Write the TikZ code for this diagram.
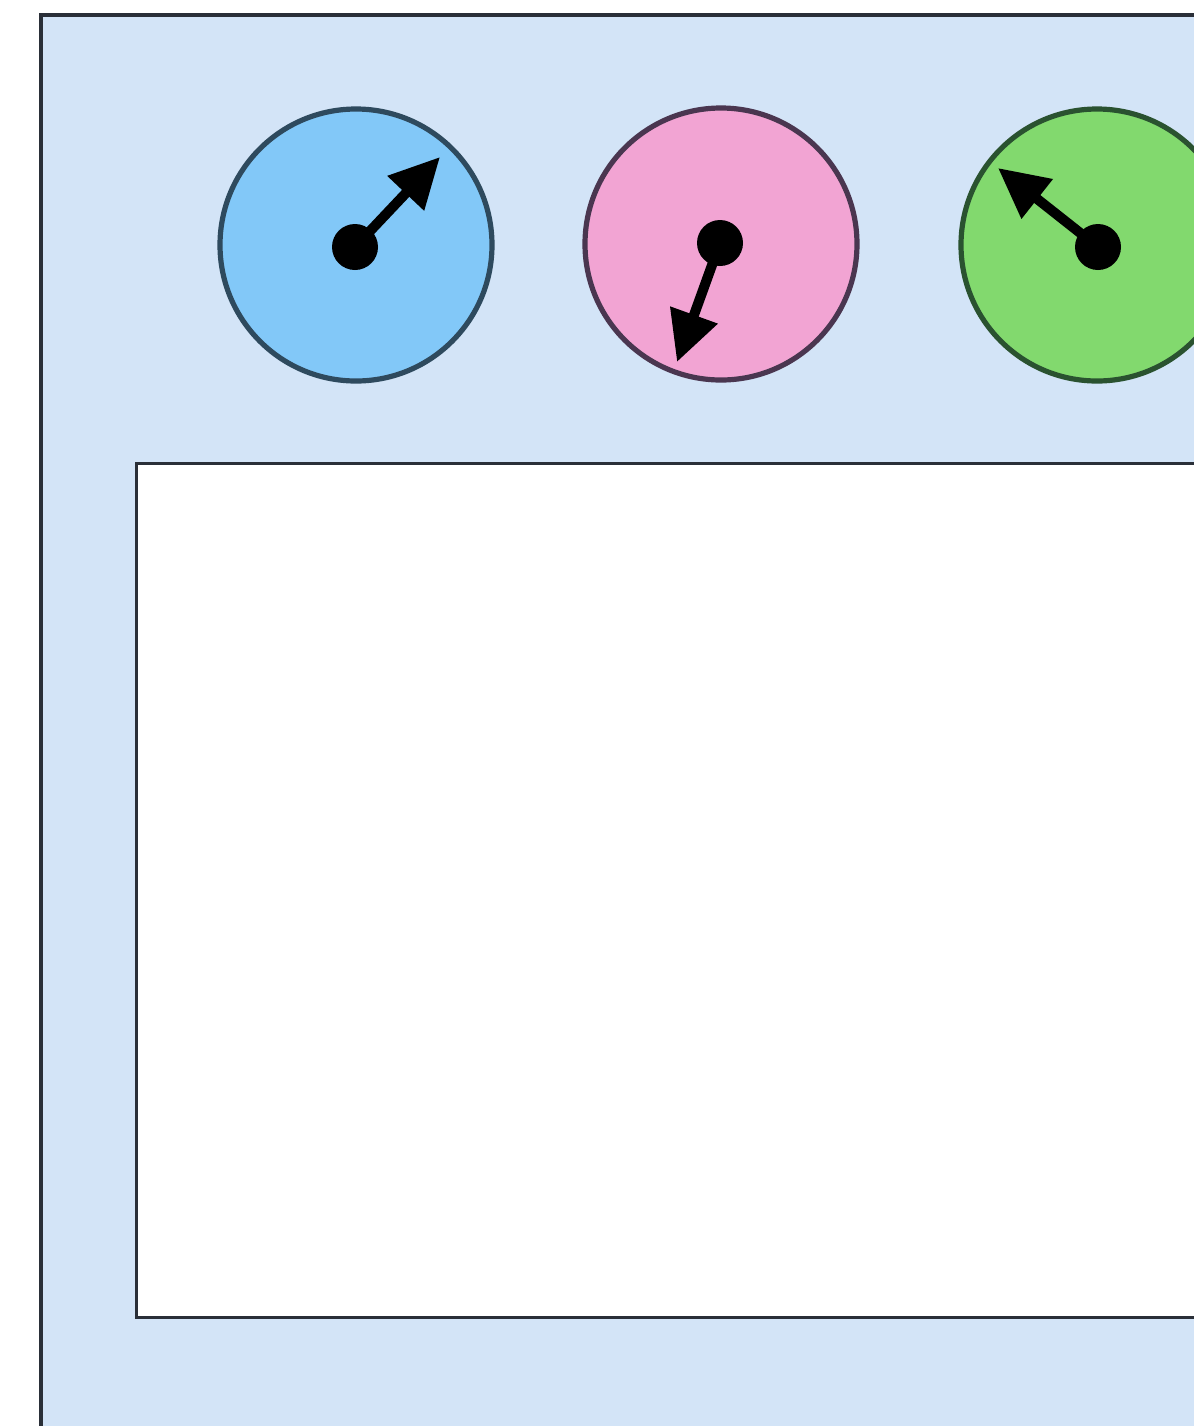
\documentclass[tikz,border=0pt]{standalone}
\usetikzlibrary{arrows.meta}
\definecolor{panelbg}{HTML}{D3E4F7}
\definecolor{dialblue}{HTML}{82C8F8}
\definecolor{dialpink}{HTML}{F2A4D3}
\definecolor{dialgreen}{HTML}{82D96E}
\definecolor{edgeblue}{HTML}{2E4A5E}
\definecolor{edgepink}{HTML}{4A3650}
\definecolor{edgegreen}{HTML}{2A5230}
\definecolor{frame}{HTML}{2A2F38}
\tikzset{
  dial/.style={circle, minimum size=136pt, inner sep=0pt, line width=2.6pt},
  hub/.style={circle, fill=black, minimum size=23pt, inner sep=0pt},
  hand/.style={line width=5pt, -{Triangle[length=25pt,width=24pt]}},
}
\begin{document}
\begin{tikzpicture}[x=0.5pt,y=-0.5pt]
\useasboundingbox (0,0) rectangle (1194,1426);
\clip (0,0) rectangle (1194,1426);
\fill[white] (0,0) rectangle (1194,1426);
% outer panel
\draw[fill=panelbg, draw=frame, line width=1.8pt] (41,15) rectangle (1260,1500);
% inner white box
\draw[fill=white, draw=frame, line width=1.5pt] (136,463) rectangle (1260,1317);
% dials
\node[dial, fill=dialblue, draw=edgeblue] (d1) at (356,245) {};
\node[dial, fill=dialpink, draw=edgepink] (d2) at (721,244) {};
\node[dial, fill=dialgreen, draw=edgegreen] (d3) at (1097,245) {};
% hubs
\node[hub] (h1) at (355,247) {};
\node[hub] (h2) at (720,243) {};
\node[hub] (h3) at (1098,247) {};
% tips
\coordinate (t1) at (440,157);
\coordinate (t2) at (677,362);
\coordinate (t3) at (998,168);
\draw[hand] (h1.center) -- (t1);
\draw[hand] (h2.center) -- (t2);
\draw[hand] (h3.center) -- (t3);
\end{tikzpicture}
\end{document}
